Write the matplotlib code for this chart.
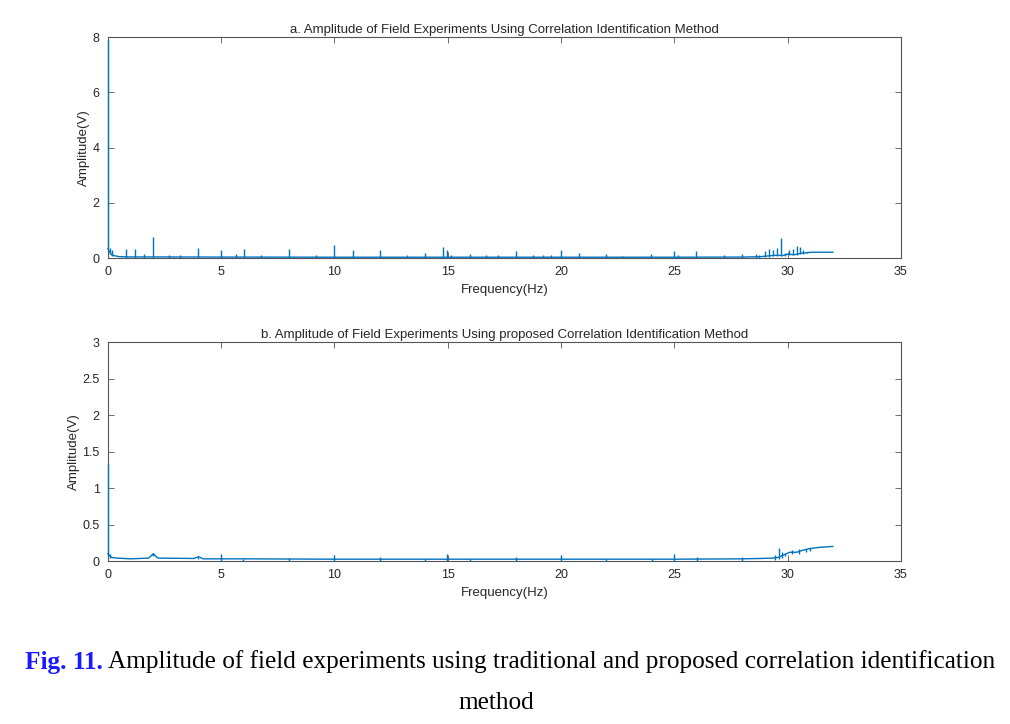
import matplotlib
matplotlib.use("Agg")
import matplotlib.pyplot as plt
import numpy as np

plt.rcParams['font.family'] = ['Liberation Sans', 'DejaVu Sans']

# panel a: traditional correlation identification
base_freq_a = [0, 0.05, 0.15, 0.3, 0.5, 1, 2, 5, 10, 15, 20, 25, 28, 28.8,
               29.2, 29.5, 29.8, 30.0, 30.3, 30.6, 30.9, 31.1, 31.5, 32]
base_amp_a = [0.35, 0.25, 0.12, 0.08, 0.05, 0.04, 0.04, 0.035, 0.03, 0.03,
              0.03, 0.03, 0.035, 0.05, 0.08, 0.1, 0.09, 0.14, 0.12, 0.17,
              0.2, 0.21, 0.21, 0.21]
peak_freq_a = [0.0, 0.1, 0.2, 0.78, 1.2, 1.6, 2.0, 2.7, 3.2, 3.97, 5.0, 5.63,
               6.0, 6.76, 7.98, 9.2, 10.0, 10.8, 12.0, 13.2, 14.0, 14.78,
               14.96, 15.15, 15.96, 16.7, 17.2, 18.0, 18.76, 19.2, 19.57,
               19.98, 20.78, 22.0, 22.7, 23.98, 24.97, 25.16, 25.97, 27.2,
               27.98, 28.6, 28.75, 29.0, 29.2, 29.35, 29.55, 29.72, 29.87,
               30.05, 30.25, 30.4, 30.55, 30.7, 30.85]
peak_amp_a = [7.9, 0.38, 0.3, 0.34, 0.34, 0.16, 0.78, 0.1, 0.1, 0.37, 0.28,
              0.16, 0.34, 0.1, 0.34, 0.1, 0.47, 0.28, 0.28, 0.1, 0.18, 0.4,
              0.28, 0.12, 0.16, 0.1, 0.1, 0.25, 0.1, 0.1, 0.1, 0.28, 0.2,
              0.13, 0.08, 0.14, 0.27, 0.1, 0.27, 0.1, 0.14, 0.16, 0.1, 0.25,
              0.33, 0.28, 0.36, 0.73, 0.2, 0.28, 0.31, 0.43, 0.4, 0.28, 0.21]

# panel b: proposed correlation identification
base_freq_b = [0, 0.05, 0.15, 0.4, 1, 1.8, 2.0, 2.2, 3.8, 4.0, 4.2, 6, 10,
               15, 20, 25, 28, 28.8, 29.3, 29.6, 29.8, 30.1, 30.4, 30.7,
               30.97, 31.2, 31.5, 32]
base_amp_b = [0.1, 0.08, 0.05, 0.04, 0.03, 0.04, 0.1, 0.04, 0.035, 0.06,
              0.03, 0.03, 0.025, 0.025, 0.025, 0.025, 0.03, 0.035, 0.04,
              0.05, 0.08, 0.12, 0.12, 0.15, 0.17, 0.18, 0.19, 0.2]
peak_freq_b = [0.0, 0.1, 1.99, 3.97, 5.0, 5.96, 7.98, 10.0, 12.0, 14.0,
               14.97, 16.0, 18.0, 19.98, 22.0, 24.0, 25.0, 26.0, 28.0,
               29.45, 29.64, 29.75, 29.9, 30.2, 30.5, 30.8, 31.0]
peak_amp_b = [1.33, 0.1, 0.11, 0.05, 0.09, 0.03, 0.04, 0.08, 0.06, 0.03,
              0.1, 0.03, 0.06, 0.08, 0.03, 0.03, 0.09, 0.06, 0.05,
              0.08, 0.18, 0.12, 0.1, 0.15, 0.16, 0.17, 0.18]

x_ticks = [0, 5, 10, 15, 20, 25, 30, 35]
line_color = '#0072BD'
frame_color = '#555555'
text_color = '#262626'

fig = plt.figure(figsize=(10.1, 7.24), dpi=100)
ax_a = fig.add_axes([0.1069, 0.6436, 0.785, 0.305])
ax_b = fig.add_axes([0.1069, 0.2251, 0.785, 0.3025])

panels = [
    (ax_a, base_freq_a, base_amp_a, peak_freq_a, peak_amp_a, 8, [0, 2, 4, 6, 8],
     'a. Amplitude of Field Experiments Using Correlation Identification Method'),
    (ax_b, base_freq_b, base_amp_b, peak_freq_b, peak_amp_b, 3,
     [0, 0.5, 1, 1.5, 2, 2.5, 3],
     'b. Amplitude of Field Experiments Using proposed Correlation Identification Method'),
]

for ax, bf, ba, pf, pa, ymax, yt, title in panels:
    # spikes rise from the local baseline level
    start = np.clip(np.interp(pf, bf, ba) - 0.03, 0, None)
    ax.plot(bf, ba, color=line_color, lw=1.0, zorder=3, clip_on=False)
    ax.vlines(pf, start, pa, color=line_color, lw=1.0, zorder=3, clip_on=False)
    ax.set_xlim(0, 35)
    ax.set_ylim(0, ymax)
    ax.set_xticks(x_ticks)
    ax.set_yticks(yt)
    ax.set_yticklabels([f'{v:g}' for v in yt])
    ax.tick_params(direction='in', top=True, right=True, length=4,
                   width=0.6, colors=frame_color, labelcolor=text_color,
                   labelsize=9, pad=6)
    for s in ax.spines.values():
        s.set_color(frame_color)
        s.set_linewidth(0.8)
    ax.set_title(title, fontsize=9.5, color=text_color, pad=3)
    ax.set_xlabel('Frequency(Hz)', fontsize=9.5, color=text_color, labelpad=4)
    ax.set_ylabel('Amplitude(V)', fontsize=9.5, color=text_color, labelpad=2)

# caption
cap_y1 = 1 - 662 / 724
cap_y2 = 1 - 703 / 724
fig_num = fig.text(25 / 1010, cap_y1, 'Fig. 11.', fontsize=18.2, fontweight='bold',
                   color='#1a1aff', family='Liberation Serif', va='center')
fig.canvas.draw()
bb = fig_num.get_window_extent()
fig.text((bb.x1 + 5) / 1010, cap_y1,
         'Amplitude of field experiments using traditional and proposed '
         'correlation identification',
         fontsize=18.2, color='black', family='Liberation Serif', va='center')
fig.text(496 / 1010, cap_y2, 'method', fontsize=18.2, color='black',
         family='Liberation Serif', va='center', ha='center')

fig.savefig('out.png', dpi=100)
